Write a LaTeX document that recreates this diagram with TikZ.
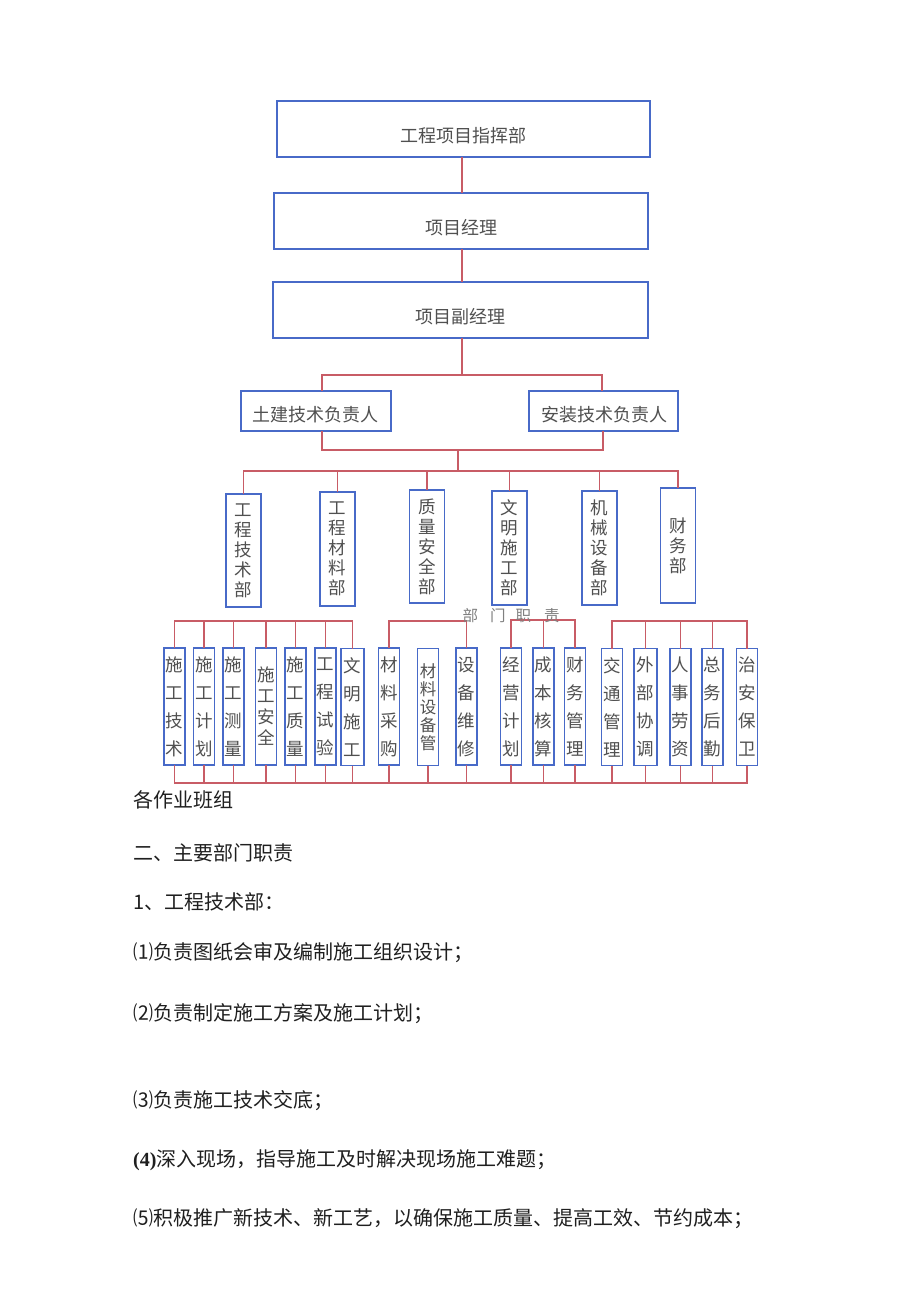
\documentclass[tikz,border=0pt]{standalone}
\usepackage{fontspec}
\setmainfont{Liberation Serif}
\newfontfamily\cjk{Noto Sans CJK SC}
\usetikzlibrary{calc}
\definecolor{boxblue}{RGB}{72,106,200}
\definecolor{linered}{RGB}{200,92,102}
\definecolor{txtgray}{RGB}{80,80,80}
\tikzset{
  box/.style={draw=boxblue, line width=1.8pt, inner sep=0pt, outer sep=0pt, fill=white},
  wbox/.style={box, minimum height=56pt},
  dbox/.style={box, minimum width=35pt, font=\cjk\fontsize{17.5pt}{20pt}\selectfont, text=txtgray, align=center},
  sbox/.style={box, minimum width=21pt, minimum height=117pt, font=\cjk\fontsize{17.5pt}{28pt}\selectfont, text=txtgray, align=center},
  conn/.style={draw=linered, line width=1.2pt},
  body/.style={anchor=west, inner sep=0pt, font=\cjk\fontsize{20pt}{24pt}\selectfont, text=black!88},
  lbl/.style={inner sep=0pt, font=\cjk\fontsize{18pt}{20pt}\selectfont, text=txtgray}
}
\begin{document}
\begin{tikzpicture}[x=1pt,y=-1pt]
\fill[white] (0,0) rectangle (920,1301);
\useasboundingbox (0,0) rectangle (920,1301);

% top chain
\node[wbox, minimum width=373pt] (n1) at (463.5,129) {};
\node[lbl] (t1) at (463.5,136) {工程项目指挥部};
\node[wbox, minimum width=374pt] (n2) at (461,221) {};
\node[lbl] (t2) at (461,228) {项目经理};
\node[wbox, minimum width=375pt] (n3) at (460.5,310) {};
\node[lbl] (t3) at (460.5,317) {项目副经理};

\draw[conn] (n1.south -| 462,0) -- (n2.north -| 462,0);
\draw[conn] (n2.south -| 462,0) -- (n3.north -| 462,0);

% second level
\node[box, minimum width=150pt, minimum height=40pt] (L) at (316,411) {};
\node[lbl] (tL) at (315,415) {土建技术负责人};
\node[box, minimum width=149pt, minimum height=40pt] (R) at (603.5,411) {};
\node[lbl] (tR) at (604,415) {安装技术负责人};

\coordinate (tl) at (322,375);
\coordinate (tr) at (602,375);
\coordinate (bl) at (322,450);
\coordinate (br) at (603,450);
\coordinate (bm) at (458,450);
\coordinate (dm) at (458,471);
\draw[conn] (n3.south -| 462,0) -- (462,375);
\draw[conn] (tl |- L.north) -- (tl) -- (tr) -- (tr |- R.north);
\draw[conn] (bl |- L.south) -- (bl) -- (br) -- (br |- R.south);
\draw[conn] (bm) -- (dm);

% departments
\node[dbox, minimum height=113pt] (d1) at (243.5,550.5) {工\\程\\技\\术\\部};
\node[dbox, minimum height=114pt] (d2) at (337.5,549) {工\\程\\材\\料\\部};
\node[dbox, minimum height=113pt] (d3) at (427,546.5) {质\\量\\安\\全\\部};
\node[dbox, minimum height=114pt] (d4) at (509.5,548) {文\\明\\施\\工\\部};
\node[dbox, minimum height=114pt] (d5) at (599.5,548) {机\\械\\设\\备\\部};
\node[dbox, minimum height=115pt] (d6) at (678,545.5) {财\\务\\部};

\coordinate (dbus) at (0,471);
\draw[conn] (d1.north) -- (d1.north |- dbus) -- (d6.north |- dbus) -- (d6.north);
\foreach \d in {d2,d3,d4,d5}{
  \draw[conn] (\d.north |- dbus) -- (\d.north);
}

% small boxes
\node[sbox] (s1) at (174.5,706.5) {施\\工\\技\\术};
\node[sbox] (s2) at (204,706.5) {施\\工\\计\\划};
\node[sbox] (s3) at (233.5,706.5) {施\\工\\测\\量};
\node[sbox, font=\cjk\fontsize{17.5pt}{21pt}\selectfont] (s4) at (266,706.5) {施\\工\\安\\全};
\node[sbox] (s5) at (295.5,706.5) {施\\工\\质\\量};
\node[sbox] (s6) at (325.5,706.5) {工\\程\\试\\验};
\node[sbox, minimum width=23pt] (s7) at (352.5,707) {文\\明\\施\\工};
\node[sbox] (s8) at (389,706.5) {材\\料\\采\\购};
\node[sbox, font=\cjk\fontsize{16.5pt}{18pt}\selectfont] (s9) at (428,707) {材\\料\\设\\备\\管};
\node[sbox] (s10) at (466.5,706.5) {设\\备\\维\\修};
\node[sbox] (s11) at (511,706.5) {经\\营\\计\\划};
\node[sbox] (s12) at (543.5,706.5) {成\\本\\核\\算};
\node[sbox] (s13) at (575,706.5) {财\\务\\管\\理};
\node[sbox] (s14) at (612,707) {交\\通\\管\\理};
\node[sbox, minimum width=23pt] (s15) at (645.5,707) {外\\部\\协\\调};
\node[sbox] (s16) at (680.5,707) {人\\事\\劳\\资};
\node[sbox] (s17) at (712.5,707) {总\\务\\后\\勤};
\node[sbox] (s18) at (747,707) {治\\安\\保\\卫};

% group buses
\coordinate (gbus) at (0,621);
\coordinate (gbus3) at (0,620);
\draw[conn] (s1.north) -- (s1.north |- gbus) -- (s7.north |- gbus) -- (s7.north);
\foreach \s in {s2,s3,s4,s5,s6}{
  \draw[conn] (\s.north |- gbus) -- (\s.north);
}
\draw[conn] (s8.north) -- (s8.north |- gbus) -- (s10.north |- gbus) -- (s10.north);
\draw[conn] (s11.north) -- (s11.north |- gbus3) -- (s13.north |- gbus3) -- (s13.north);
\draw[conn] (s12.north |- gbus3) -- (s12.north);
\draw[conn] (s14.north) -- (s14.north |- gbus) -- (s18.north |- gbus) -- (s18.north);
\foreach \s in {s15,s16,s17}{
  \draw[conn] (\s.north |- gbus) -- (\s.north);
}

% bottom bus
\coordinate (bbus) at (0,783);
\draw[conn] (s1.south) -- (s1.south |- bbus) -- (s18.south |- bbus) -- (s18.south);
\foreach \s in {s2,s3,s4,s5,s6,s7,s8,s9,s10,s11,s12,s13,s14,s15,s16,s17}{
  \draw[conn] (\s.south) -- (\s.south |- bbus);
}

\node[inner sep=0pt, font=\cjk\fontsize{15.5pt}{18pt}\selectfont, text=black!50] (bmzz) at (511,616) {部\hspace{12pt}门\hspace{10pt}职\hspace{13pt}责};

% body text
\node[body] (p0) at (133,800) {各作业班组};
\node[body] (p1) at (133,853) {二、主要部门职责};
\node[body] (p2) at (133,902) {1、工程技术部：};
\node[body] (p3) at (133,953) {⑴负责图纸会审及编制施工组织设计；};
\node[body] (p4) at (133,1014) {⑵负责制定施工方案及施工计划；};
\node[body] (p5) at (133,1101) {⑶负责施工技术交底；};
\node[body] (p6) at (133,1160) {{\rmfamily\bfseries (4)}深入现场，指导施工及时解决现场施工难题；};
\node[body] (p7) at (133,1219) {⑸积极推广新技术、新工艺，以确保施工质量、提高工效、节约成本；};
\end{tikzpicture}
\end{document}
